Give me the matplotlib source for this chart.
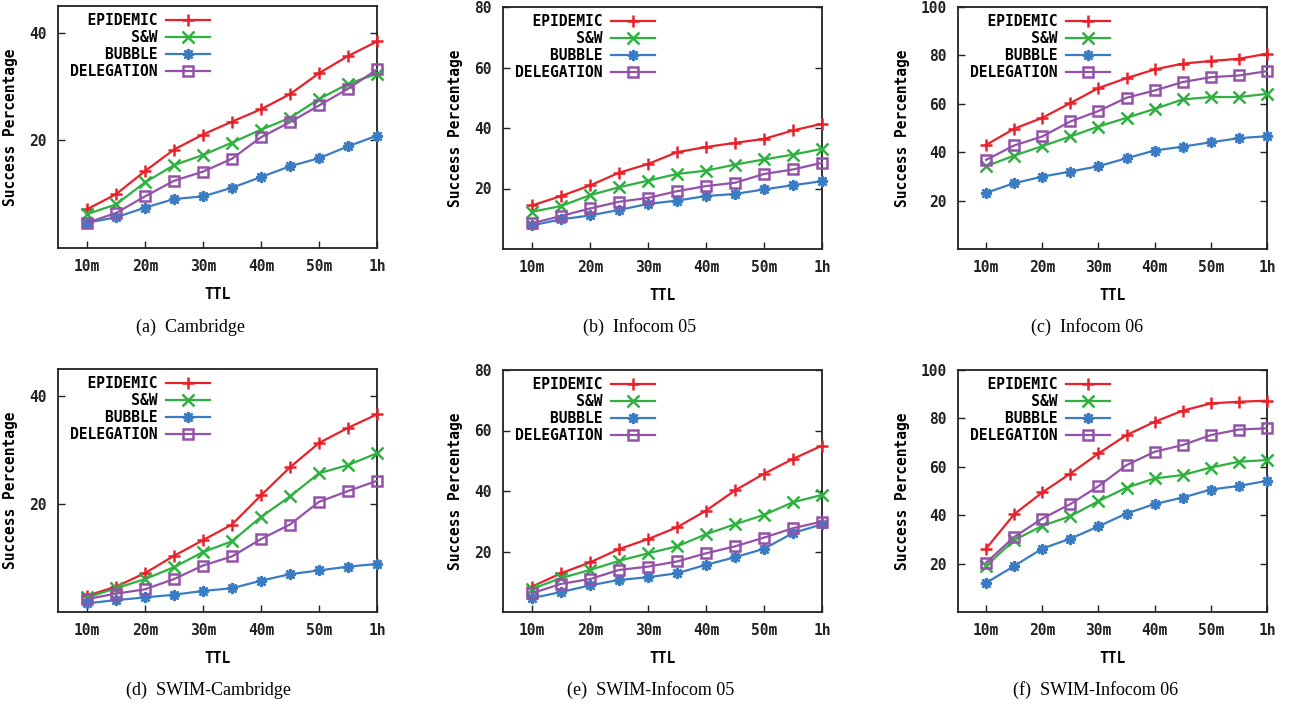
import numpy as np
import matplotlib.pyplot as plt

# TTL in minutes (10m ... 1h)
ttl = [10, 15, 20, 25, 30, 35, 40, 45, 50, 55, 60]
ttl_ticks = [10, 20, 30, 40, 50, 60]
ttl_labels = ['10m', '20m', '30m', '40m', '50m', '1h']

names = ['EPIDEMIC', 'S&W', 'BUBBLE', 'DELEGATION']

# (a) Cambridge
cam_epi = [7.2, 10.0, 14.3, 18.3, 21.1, 23.5, 25.8, 28.6, 32.5, 35.7, 38.4]
cam_sw = [6.3, 8.1, 12.2, 15.4, 17.3, 19.6, 22.0, 24.2, 27.7, 30.5, 32.4]
cam_bub = [4.7, 5.7, 7.5, 9.1, 9.6, 11.2, 13.2, 15.2, 16.7, 18.9, 20.9]
cam_del = [4.7, 6.5, 9.6, 12.5, 14.2, 16.6, 20.6, 23.4, 26.5, 29.6, 33.2]

# (b) Infocom 05
inf5_epi = [14.4, 17.5, 21.0, 25.2, 28.1, 32.0, 33.7, 35.1, 36.4, 39.2, 41.4]
inf5_sw = [12.3, 14.2, 17.8, 20.4, 22.6, 24.8, 25.9, 27.9, 29.6, 31.2, 33.1]
inf5_bub = [7.8, 9.8, 11.1, 12.9, 14.9, 16.0, 17.5, 18.2, 19.7, 21.1, 22.4]
inf5_del = [8.5, 10.9, 13.4, 15.6, 16.9, 19.1, 20.8, 21.9, 24.8, 26.3, 28.5]

# (c) Infocom 06
inf6_epi = [43.0, 49.7, 54.2, 60.3, 66.5, 70.6, 74.2, 76.6, 77.7, 78.6, 80.7]
inf6_sw = [34.2, 38.6, 42.5, 46.5, 50.6, 54.2, 57.9, 61.8, 62.8, 62.8, 64.1]
inf6_bub = [23.2, 27.2, 29.9, 32.0, 34.2, 37.5, 40.7, 42.3, 44.1, 45.8, 46.6]
inf6_del = [36.8, 42.8, 46.5, 52.7, 57.0, 62.5, 65.5, 69.0, 71.0, 71.7, 73.5]

# (d) SWIM-Cambridge
scam_epi = [3.0, 4.7, 7.2, 10.4, 13.3, 16.2, 21.6, 26.8, 31.3, 34.1, 36.6]
scam_sw = [2.7, 4.4, 6.1, 8.3, 11.1, 13.1, 17.6, 21.4, 25.7, 27.2, 29.4]
scam_bub = [1.6, 2.2, 2.7, 3.2, 3.9, 4.4, 5.8, 7.0, 7.7, 8.4, 8.9]
scam_del = [2.4, 3.4, 4.2, 6.1, 8.6, 10.3, 13.5, 16.2, 20.4, 22.4, 24.3]

# (e) SWIM-Infocom 05
sinf5_epi = [8.4, 12.8, 16.4, 20.8, 24.1, 28.0, 33.5, 40.2, 45.7, 50.6, 55.0]
sinf5_sw = [7.6, 11.2, 13.9, 16.9, 19.4, 21.7, 25.7, 29.0, 32.1, 36.3, 38.7]
sinf5_bub = [4.6, 6.6, 8.8, 10.6, 11.5, 12.8, 15.6, 18.1, 20.9, 26.1, 29.0]
sinf5_del = [6.2, 9.3, 10.9, 13.9, 15.0, 16.7, 19.4, 21.7, 24.6, 27.7, 29.9]

# (f) SWIM-Infocom 06
sinf6_epi = [26.2, 40.4, 49.4, 57.2, 65.5, 73.1, 78.6, 83.2, 86.2, 86.9, 87.3]
sinf6_sw = [19.0, 29.7, 35.6, 39.6, 45.8, 51.4, 55.2, 56.6, 59.7, 62.1, 62.8]
sinf6_bub = [12.0, 19.0, 26.2, 30.3, 35.4, 40.7, 44.6, 47.3, 50.6, 52.1, 54.2]
sinf6_del = [20.4, 31.0, 38.6, 44.6, 52.0, 60.7, 66.2, 69.0, 73.1, 75.4, 75.9]

captions = ['(a)  Cambridge', '(b)  Infocom 05', '(c)  Infocom 06',
            '(d)  SWIM-Cambridge', '(e)  SWIM-Infocom 05', '(f)  SWIM-Infocom 06']
ylims = [45, 80, 100, 45, 80, 100]
yticks = [[20, 40], [20, 40, 60, 80], [20, 40, 60, 80, 100],
          [20, 40], [20, 40, 60, 80], [20, 40, 60, 80, 100]]

panels = [
    [cam_epi, cam_sw, cam_bub, cam_del],
    [inf5_epi, inf5_sw, inf5_bub, inf5_del],
    [inf6_epi, inf6_sw, inf6_bub, inf6_del],
    [scam_epi, scam_sw, scam_bub, scam_del],
    [sinf5_epi, sinf5_sw, sinf5_bub, sinf5_del],
    [sinf6_epi, sinf6_sw, sinf6_bub, sinf6_del],
]

colors = ['#e8212a', '#2fb040', '#3a7cc4', '#9352a8']
markers = ['+', 'x', (8, 2, 0), 's']

W, H = 1301, 707
# axes boxes in pixels: left, right, top, bottom
boxes = [(58, 377, 6, 248), (503, 822, 7, 249), (958, 1267, 7, 249),
         (58, 377, 369, 612), (503, 822, 370, 612), (958, 1267, 370, 612)]
cap_pos = [(190, 327), (640, 327), (1087, 327), (208, 690), (651, 690), (1096, 690)]

mono = {'family': 'DejaVu Sans Mono', 'weight': 'bold', 'size': 10.5}

fig = plt.figure(figsize=(W / 100, H / 100), dpi=100)

for k in range(6):
    l, r, t, b = boxes[k]
    ax = fig.add_axes([l / W, 1 - b / H, (r - l) / W, (b - t) / H])
    for i in range(4):
        mfc = 'none' if markers[i] == 's' else colors[i]
        ax.plot(ttl, panels[k][i], color=colors[i], lw=1.6, marker=markers[i],
                ms=8 if markers[i] != 's' else 6.5, mew=1.8, mfc=mfc,
                label=names[i].rjust(10), clip_on=False, zorder=3)
    ax.set_xlim(5, 60)
    ax.set_ylim(0, ylims[k])
    ax.set_xticks(ttl_ticks)
    ax.set_xticklabels(ttl_labels, fontdict=mono)
    ax.set_yticks(yticks[k])
    ax.set_yticklabels([str(v) for v in yticks[k]], fontdict=mono)
    ax.tick_params(direction='in', length=5, width=1, right=True, top=False,
                   pad=8, colors='#222222')
    for s in ax.spines.values():
        s.set_linewidth(1.3)
        s.set_color('#222222')
    ax.set_xlabel('TTL', fontdict=mono, labelpad=9)
    ax.set_ylabel('Success Percentage', fontdict=mono, labelpad=8)
    leg = ax.legend(loc='upper left', bbox_to_anchor=(0.014, 1.0), frameon=False,
                    markerfirst=False, prop={'family': 'DejaVu Sans Mono', 'weight': 'bold', 'size': 10.5},
                    handlelength=3.0, handletextpad=0.6, labelspacing=0.14, borderpad=0.0)
    cx, cy = cap_pos[k]
    fig.text(cx / W, 1 - cy / H, captions[k], ha='center', va='center',
             family='Liberation Serif', fontsize=13)

fig.savefig('out.png', dpi=100)
